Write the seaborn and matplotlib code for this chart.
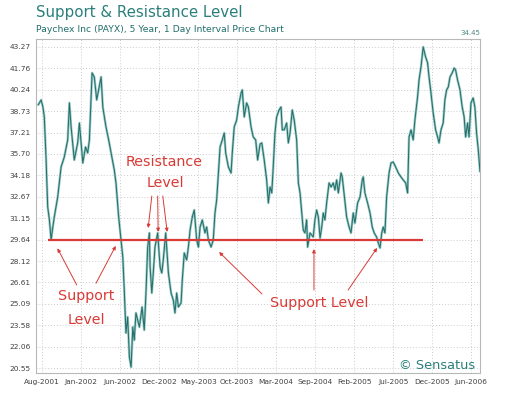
import pandas as pd
import numpy as np
import matplotlib
matplotlib.use("Agg")
import matplotlib.pyplot as plt
import seaborn as sns

# ======================================
# DATA
# ======================================
start_date = "2001-08-10"

# days after start_date
day_offset = [
    -16, -4, 3, 9, 16, 23, 30, 37, 44, 50, 64, 78, 91, 105, 112, 119, 132, 146, 153, 167,
    178, 187, 194, 205, 214, 224, 232, 242, 249, 262, 273, 283, 296, 303, 314, 324, 331, 337, 344, 351,
    358, 365, 372, 378, 385, 399, 410, 419, 426, 433, 440, 443, 450, 456, 463, 474, 484, 491, 497, 507,
    518, 529, 538, 545, 552, 559, 570, 575, 583, 593, 600, 607, 616, 624, 634, 641, 648, 657, 668, 675,
    682, 693, 702, 709, 716, 723, 730, 739, 747, 753, 764, 775, 780, 788, 798, 805, 816, 821, 829, 839,
    846, 857, 866, 876, 884, 894, 901, 911, 921, 928, 935, 942, 948, 955, 962, 972, 980, 985, 993, 1003,
    1010, 1017, 1026, 1034, 1044, 1051, 1058, 1065, 1071, 1078, 1085, 1089, 1099, 1112, 1119, 1126, 1133, 1140, 1147, 1153,
    1160, 1167, 1177, 1185, 1194, 1201, 1208, 1215, 1226, 1231, 1240, 1249, 1259, 1267, 1276, 1283, 1294, 1304, 1313, 1317,
    1324, 1335, 1345, 1354, 1362, 1372, 1379, 1386, 1393, 1399, 1406, 1413, 1423, 1431, 1440, 1450, 1461, 1472, 1481, 1491,
    1499, 1505, 1513, 1522, 1529, 1540, 1546, 1554, 1563, 1573, 1581, 1587, 1595, 1604, 1614, 1622, 1628, 1636, 1645, 1652,
    1659, 1666, 1673, 1682, 1690, 1696, 1704, 1714, 1723, 1731, 1737, 1745, 1751, 1759, 1768, 1775, 1782, 1789, 1796,
]

price = [
    39.17, 39.52, 39.05, 38.32, 35.48, 31.95, 31.03, 29.61, 30.53, 31.24, 32.65, 34.78, 35.48, 36.69, 39.31, 37.61, 35.27, 36.48, 37.89, 35.06,
    36.19, 35.77, 36.69, 41.43, 41.15, 39.52, 40.23, 41.15, 39.02, 37.61, 36.69, 35.77, 34.57, 33.65, 31.24, 29.61, 28.41, 26.07, 23.03, 24.16,
    21.33, 20.62, 23.45, 22.53, 24.45, 23.45, 24.87, 23.24, 25.86, 29.11, 30.11, 27.70, 25.86, 27.28, 29.11, 30.11, 27.70, 27.28, 28.20, 30.11,
    27.28, 25.86, 25.36, 24.45, 25.86, 24.87, 25.15, 26.78, 28.69, 28.20, 29.11, 30.32, 31.24, 31.73, 29.61, 29.11, 30.53, 31.03, 30.11, 30.53,
    29.61, 29.11, 29.61, 31.52, 32.44, 34.35, 36.19, 36.69, 37.18, 35.77, 34.78, 34.35, 35.77, 37.61, 38.10, 39.02, 40.01, 40.23, 38.32, 39.31,
    39.02, 37.61, 36.90, 36.69, 35.27, 36.40, 36.48, 35.27, 33.86, 32.23, 33.36, 32.94, 34.78, 37.18, 38.32, 38.81, 39.02, 37.40, 37.40, 37.89,
    36.48, 37.18, 38.81, 38.10, 36.69, 33.65, 32.94, 31.52, 30.32, 30.11, 31.03, 29.11, 30.11, 29.82, 31.03, 31.73, 31.24, 29.75, 30.53, 31.52,
    31.03, 32.23, 33.65, 33.36, 33.65, 33.15, 33.86, 32.94, 34.35, 34.07, 32.65, 31.24, 30.53, 30.11, 31.52, 30.81, 32.23, 32.65, 33.86, 34.07,
    32.94, 32.23, 31.52, 30.53, 30.11, 29.82, 29.40, 29.05, 30.11, 30.53, 30.11, 32.65, 34.35, 35.06, 35.13, 34.78, 34.35, 34.07, 33.86, 33.65,
    32.94, 36.90, 37.40, 36.69, 38.10, 39.73, 40.93, 41.85, 43.27, 42.56, 42.14, 41.15, 40.01, 38.60, 37.40, 36.90, 36.48, 37.40, 37.89, 39.52,
    40.23, 40.44, 41.15, 41.43, 41.78, 41.64, 40.93, 40.23, 39.02, 38.32, 36.90, 37.89, 36.90, 39.31, 39.66, 39.02, 37.18, 35.98, 34.45,
]

y_ticks = [20.55, 22.06, 23.58, 25.09, 26.61, 28.12, 29.64, 31.15, 32.67,
           34.18, 35.70, 37.21, 38.73, 40.24, 41.76, 43.27]
x_tick_labels = ["Aug-2001", "Jan-2002", "Jun-2002", "Dec-2002", "May-2003", "Oct-2003",
                 "Mar-2004", "Sep-2004", "Feb-2005", "Jul-2005", "Dec-2005", "Jun-2006"]

support_level = 29.6
support_from, support_to = 25, 1562   # days after start_date
last_price = "34.45"

# ======================================
# PREP
# ======================================
t0 = pd.Timestamp(start_date)


def d(n):
    return t0 + pd.Timedelta(days=n)


df = pd.DataFrame({
    "date": t0 + pd.to_timedelta(day_offset, unit="D"),
    "price": price,
})

teal_dark = "#256f6b"
teal_light = "#9fcdc9"
red = "#d93a35"

sns.set_style("white")
plt.rcParams["font.family"] = ["DejaVu Sans"]

fig = plt.figure(figsize=(5.2, 3.98), dpi=100)
ax = fig.add_axes([36 / 520, 25 / 398, 444 / 520, 333.7 / 398])

# ======================================
# PRICE LINE
# ======================================
sns.lineplot(data=df, x="date", y="price", ax=ax, color=teal_light, linewidth=1.8, zorder=2)
sns.lineplot(data=df, x="date", y="price", ax=ax, color=teal_dark, linewidth=0.75, zorder=3)

ax.hlines(support_level, d(support_from), d(support_to), color=red, linewidth=1.6, zorder=4)

# ======================================
# AXES
# ======================================
ax.set_xlim(d(-25), d(1796))
ax.set_ylim(20.20, 43.81)
ax.set_yticks(y_ticks)
ax.set_yticklabels([f"{v:.2f}" for v in y_ticks])
ax.set_xticks(pd.date_range(start_date, periods=len(x_tick_labels), freq="160D"))
ax.set_xticklabels(x_tick_labels)
ax.tick_params(axis="both", labelsize=5.3, labelcolor="#404040", length=2, width=0.6,
               color="#b0b0b0", pad=2)
ax.set_xlabel("")
ax.set_ylabel("")
ax.grid(True, color="#cccccc", linestyle=(0, (1, 2)), linewidth=0.7)
ax.set_axisbelow(True)
for s in ax.spines.values():
    s.set_color("#b8b8b8")
    s.set_linewidth(0.8)

# ======================================
# TEXTS
# ======================================
fig.text(36 / 520, 1 - 12.5 / 398, "Support & Resistance Level", fontsize=10.8,
         color="#2b7f7b", va="center", ha="left")
fig.text(36 / 520, 1 - 29 / 398, "Paychex Inc (PAYX), 5 Year, 1 Day Interval Price Chart",
         fontsize=6.7, color="#216f6c", va="center", ha="left")
fig.text(480 / 520, 1 - 33 / 398, last_price, fontsize=5, color="#4d8683", va="center", ha="right")

ax.text(0.989, 0.021, "\u00a9 Sensatus", transform=ax.transAxes, fontsize=9.3,
        color="#2b7f7b", ha="right", va="center")

txt = dict(color=red, fontsize=10.3, ha="center", va="center")
ax.text(d(500), 35.13, "Resistance", **txt)
ax.text(d(504), 33.65, "Level", **txt)
ax.text(d(180), 25.65, "Support", **txt)
ax.text(d(180), 23.95, "Level", **txt)
ax.text(d(1136), 25.15, "Support Level", **txt)

arrow = dict(arrowstyle="-|>", color=red, lw=0.7, mutation_scale=5, shrinkA=0, shrinkB=0)
arrows = [
    ((450, 32.72), (435, 30.46)),
    ((474, 32.72), (476, 30.18)),
    ((495, 32.72), (513, 30.18)),
    ((142, 26.43), (63, 29.02)),
    ((221, 26.55), (302, 29.19)),
    ((902, 25.79), (726, 28.76)),
    ((1115, 26.07), (1115, 28.97)),
    ((1255, 26.07), (1374, 29.05)),
]
for (x0, y0), (x1, y1) in arrows:
    ax.annotate("", xy=(d(x1), y1), xytext=(d(x0), y0), arrowprops=arrow, zorder=5)

plt.savefig("out.png", dpi=100)
